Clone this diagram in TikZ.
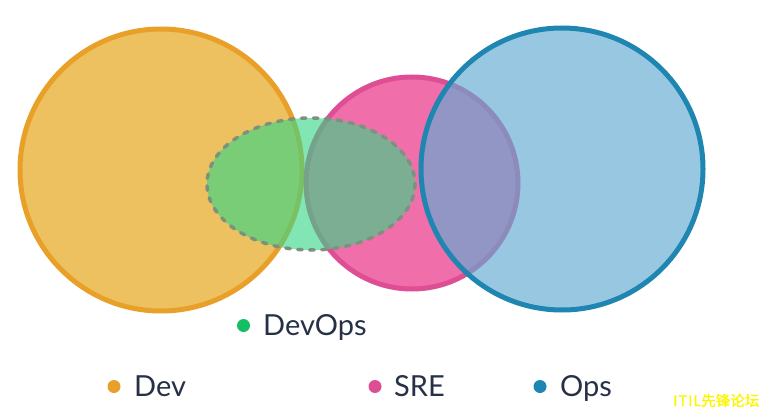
\documentclass[tikz,border=0pt]{standalone}
\usepackage{fontspec}
\setmainfont{Lato}
\newfontfamily\cjkfont[FakeBold=1.2]{Noto Sans CJK SC}

\definecolor{devline}{RGB}{232,160,40}
\definecolor{devfill}{RGB}{229,165,28}
\definecolor{sreline}{RGB}{222,78,148}
\definecolor{srefill}{RGB}{234,48,134}
\definecolor{opsline}{RGB}{30,134,176}
\definecolor{opsfill}{RGB}{98,171,209}
\definecolor{devopsfill}{RGB}{53,214,134}
\definecolor{devopsline}{RGB}{125,145,125}
\definecolor{devopsdot}{RGB}{20,190,100}
\definecolor{labelink}{RGB}{38,48,70}
\definecolor{markink}{RGB}{252,245,0}

\begin{document}
\begin{tikzpicture}[x=1pt,y=-1pt,
    setcircle/.style={line width=5pt,fill opacity=0.7},
    legenddot/.style={circle,fill,inner sep=0pt,minimum size=13pt},
    legendtext/.style={anchor=base west,inner sep=0pt,text=labelink,
        font=\fontsize{29}{31}\selectfont}]
    \useasboundingbox (0,0) rectangle (763,412);

    % Sets
    \draw[setcircle,draw=devline,fill=devfill] (161,170) circle (141);
    \draw[setcircle,draw=sreline,fill=srefill] (412,183) circle (106);
    \draw[devopsline,line width=3.5pt,line cap=round,dash pattern=on 4.5pt off 7.5pt,
        fill=devopsfill,fill opacity=0.62] (311,184) ellipse [x radius=104, y radius=66];
    \draw[setcircle,draw=opsline,fill=opsfill,fill opacity=0.66] (562,169) circle (141);

    % Legend
    \node[legenddot,devopsdot] (devopsdot) at (243.5,325.5) {};
    \node[legendtext] (devopslabel) at (263,335) {DevOps};
    \node[legenddot,devline] (devdot) at (114,386.5) {};
    \node[legendtext] (devlabel) at (134,396) {Dev};
    \node[legenddot,sreline] (sredot) at (375,386.5) {};
    \node[legendtext] (srelabel) at (394,396) {SRE};
    \node[legenddot,opsline] (opsdot) at (540,386.5) {};
    \node[legendtext] (opslabel) at (560,396) {Ops};

    % Watermark
    \node[anchor=base west,inner sep=0pt,text=markink,
        font=\cjkfont\fontsize{14.5}{16}\selectfont] (mark) at (673,406)
        {{\addfontfeature{LetterSpace=7}ITIL}先锋论坛};
\end{tikzpicture}
\end{document}
